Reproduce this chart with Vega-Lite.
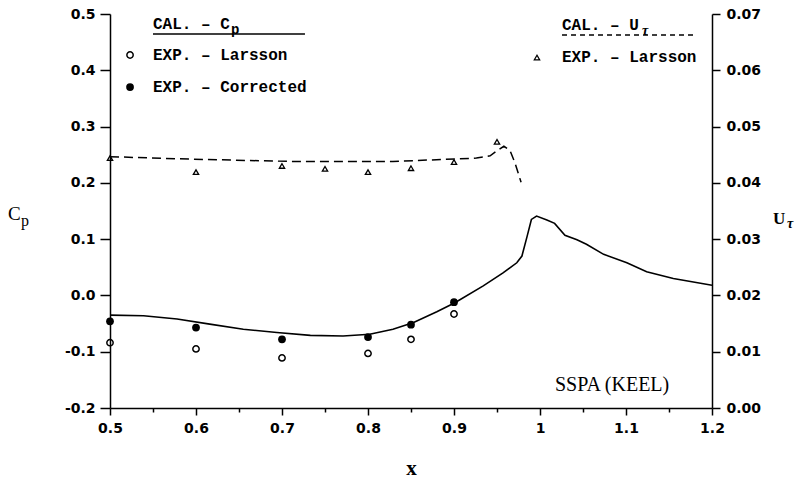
{
  "$schema": "https://vega.github.io/schema/vega-lite/v6.json",
  "width": 602,
  "height": 394,
  "autosize": {"type": "none"},
  "padding": {"left": 110, "top": 14, "right": 91, "bottom": 76},
  "background": "white",
  "config": {"view": {"stroke": null}},
  "datasets": {
    "cpcal": [
      {"x": 0.5, "cp": -0.035}, {"x": 0.539, "cp": -0.036}, {"x": 0.578, "cp": -0.042},
      {"x": 0.616, "cp": -0.051}, {"x": 0.655, "cp": -0.06}, {"x": 0.694, "cp": -0.066},
      {"x": 0.733, "cp": -0.071}, {"x": 0.771, "cp": -0.072}, {"x": 0.802, "cp": -0.069},
      {"x": 0.829, "cp": -0.06}, {"x": 0.853, "cp": -0.048}, {"x": 0.88, "cp": -0.029},
      {"x": 0.901, "cp": -0.013}, {"x": 0.934, "cp": 0.017}, {"x": 0.957, "cp": 0.04},
      {"x": 0.973, "cp": 0.058}, {"x": 0.979, "cp": 0.07}, {"x": 0.985, "cp": 0.105},
      {"x": 0.99, "cp": 0.135}, {"x": 0.996, "cp": 0.141}, {"x": 1.008, "cp": 0.134},
      {"x": 1.017, "cp": 0.128}, {"x": 1.029, "cp": 0.107}, {"x": 1.043, "cp": 0.099},
      {"x": 1.054, "cp": 0.091}, {"x": 1.074, "cp": 0.073}, {"x": 1.101, "cp": 0.058},
      {"x": 1.124, "cp": 0.042}, {"x": 1.155, "cp": 0.03}, {"x": 1.2, "cp": 0.018}
    ],
    "larsson": [
      {"x": 0.5, "cp": -0.084}, {"x": 0.6, "cp": -0.095}, {"x": 0.7, "cp": -0.111},
      {"x": 0.8, "cp": -0.103}, {"x": 0.85, "cp": -0.078}, {"x": 0.9, "cp": -0.033}
    ],
    "corrected": [
      {"x": 0.5, "cp": -0.046}, {"x": 0.6, "cp": -0.057}, {"x": 0.7, "cp": -0.078},
      {"x": 0.8, "cp": -0.074}, {"x": 0.85, "cp": -0.052}, {"x": 0.9, "cp": -0.012}
    ],
    "utcal": [
      {"x": 0.5, "ut": 0.04465}, {"x": 0.597, "ut": 0.0442}, {"x": 0.713, "ut": 0.0438},
      {"x": 0.829, "ut": 0.0438}, {"x": 0.926, "ut": 0.0444}, {"x": 0.942, "ut": 0.0448},
      {"x": 0.95, "ut": 0.0457}, {"x": 0.958, "ut": 0.0465}, {"x": 0.965, "ut": 0.0458},
      {"x": 0.971, "ut": 0.0435}, {"x": 0.978, "ut": 0.0401}
    ],
    "utexp": [
      {"x": 0.5, "ut": 0.0444}, {"x": 0.6, "ut": 0.0419}, {"x": 0.7, "ut": 0.043},
      {"x": 0.75, "ut": 0.0425}, {"x": 0.8, "ut": 0.0419}, {"x": 0.85, "ut": 0.0426},
      {"x": 0.9, "ut": 0.0437}, {"x": 0.95, "ut": 0.0473}
    ]
  },
  "resolve": {"scale": {"y": "independent"}},
  "layer": [
    {
      "layer": [
        {
          "data": {"name": "cpcal"},
          "mark": {"type": "line", "color": "black", "strokeWidth": 1.6},
          "encoding": {
            "x": {
              "field": "x", "type": "quantitative",
              "scale": {"domain": [0.5, 1.2], "nice": false, "zero": false},
              "axis": {
                "orient": "bottom",
                "values": [0.5, 0.55, 0.6, 0.65, 0.7, 0.75, 0.8, 0.85, 0.9, 0.95, 1, 1.05, 1.1, 1.15, 1.2],
                "labelExpr": "abs(datum.value*10 - round(datum.value*10)) < 0.001 ? format(datum.value, '~g') : ''",
                "tickSize": 7,
                "tickDash": {"condition": {"test": "abs(datum.value*10 - round(datum.value*10)) < 0.001", "value": [7, 0]}, "value": [4, 20]},
                "grid": false, "domainColor": "black", "domainWidth": 1.5,
                "tickColor": "black", "tickWidth": 1.5,
                "labelFont": "DejaVu Sans", "labelFontWeight": "bold", "labelFontSize": 14,
                "labelColor": "black", "labelPadding": 6, "labelOverlap": false, "labelFlush": false,
                "title": "x", "titleFont": "Liberation Serif", "titleFontWeight": "bold",
                "titleFontSize": 21, "titleColor": "black", "titlePadding": 22
              }
            },
            "y": {
              "field": "cp", "type": "quantitative",
              "scale": {"domain": [-0.2, 0.5], "nice": false, "zero": false},
              "axis": {
                "orient": "left",
                "values": [-0.2, -0.15, -0.1, -0.05, 0, 0.05, 0.1, 0.15, 0.2, 0.25, 0.3, 0.35, 0.4, 0.45, 0.5],
                "labelExpr": "abs(datum.value*10 - round(datum.value*10)) < 0.001 ? replace(format(datum.value, '.1f'), '\u2212', '-') : ''",
                "tickSize": 10,
                "tickDash": {"condition": {"test": "abs(datum.value*10 - round(datum.value*10)) < 0.001", "value": [10, 0]}, "value": [5, 20]},
                "grid": false, "domainColor": "black", "domainWidth": 1.5,
                "tickColor": "black", "tickWidth": 1.5,
                "labelFont": "DejaVu Sans", "labelFontWeight": "bold", "labelFontSize": 14,
                "labelColor": "black", "labelPadding": 5, "labelOverlap": false, "labelFlush": false,
                "title": null
              }
            }
          }
        },
        {
          "data": {"name": "larsson"},
          "mark": {"type": "point", "shape": "circle", "filled": false, "stroke": "black", "strokeWidth": 1.5, "size": 40, "opacity": 1},
          "encoding": {
            "x": {"field": "x", "type": "quantitative", "scale": {"domain": [0.5, 1.2], "nice": false, "zero": false}},
            "y": {"field": "cp", "type": "quantitative", "scale": {"domain": [-0.2, 0.5], "nice": false, "zero": false}}
          }
        },
        {
          "data": {"name": "corrected"},
          "mark": {"type": "point", "shape": "circle", "filled": true, "fill": "black", "stroke": null, "size": 60, "opacity": 1},
          "encoding": {
            "x": {"field": "x", "type": "quantitative", "scale": {"domain": [0.5, 1.2], "nice": false, "zero": false}},
            "y": {"field": "cp", "type": "quantitative", "scale": {"domain": [-0.2, 0.5], "nice": false, "zero": false}}
          }
        },
        {
          "data": {"values": [{}]},
          "mark": {"type": "text", "text": "C", "align": "left", "baseline": "middle", "font": "Liberation Serif", "fontSize": 19, "color": "black"},
          "encoding": {
            "x": {"datum": 0.3814, "type": "quantitative", "scale": {"domain": [0.5, 1.2], "nice": false, "zero": false}},
            "y": {"datum": 0.1447, "type": "quantitative", "scale": {"domain": [-0.2, 0.5], "nice": false, "zero": false}}
          }
        },
        {
          "data": {"values": [{}]},
          "mark": {"type": "text", "text": "p", "align": "left", "baseline": "middle", "font": "Liberation Serif", "fontSize": 16, "color": "black"},
          "encoding": {
            "x": {"datum": 0.3965, "type": "quantitative", "scale": {"domain": [0.5, 1.2], "nice": false, "zero": false}},
            "y": {"datum": 0.1322, "type": "quantitative", "scale": {"domain": [-0.2, 0.5], "nice": false, "zero": false}}
          }
        },
        {
          "data": {"values": [{}]},
          "mark": {"type": "text", "text": "U", "align": "left", "baseline": "middle", "font": "Liberation Serif", "fontWeight": "bold", "fontSize": 17, "color": "black"},
          "encoding": {
            "x": {"datum": 1.2709, "type": "quantitative", "scale": {"domain": [0.5, 1.2], "nice": false, "zero": false}},
            "y": {"datum": 0.1358, "type": "quantitative", "scale": {"domain": [-0.2, 0.5], "nice": false, "zero": false}}
          }
        },
        {
          "data": {"values": [{}]},
          "mark": {"type": "text", "text": "τ", "align": "left", "baseline": "middle", "font": "Liberation Serif", "fontWeight": "bold", "fontStyle": "italic", "fontSize": 14, "color": "black"},
          "encoding": {
            "x": {"datum": 1.2872, "type": "quantitative", "scale": {"domain": [0.5, 1.2], "nice": false, "zero": false}},
            "y": {"datum": 0.1269, "type": "quantitative", "scale": {"domain": [-0.2, 0.5], "nice": false, "zero": false}}
          }
        },
        {
          "data": {"values": [{}]},
          "mark": {"type": "text", "text": "CAL. – C", "align": "left", "baseline": "middle", "font": "Liberation Mono", "fontWeight": "bold", "fontSize": 16, "color": "black"},
          "encoding": {
            "x": {"datum": 0.55, "type": "quantitative", "scale": {"domain": [0.5, 1.2], "nice": false, "zero": false}},
            "y": {"datum": 0.4822, "type": "quantitative", "scale": {"domain": [-0.2, 0.5], "nice": false, "zero": false}}
          }
        },
        {
          "data": {"values": [{}]},
          "mark": {"type": "text", "text": "p", "align": "left", "baseline": "middle", "font": "Liberation Mono", "fontWeight": "bold", "fontSize": 14, "color": "black"},
          "encoding": {
            "x": {"datum": 0.6407, "type": "quantitative", "scale": {"domain": [0.5, 1.2], "nice": false, "zero": false}},
            "y": {"datum": 0.4716, "type": "quantitative", "scale": {"domain": [-0.2, 0.5], "nice": false, "zero": false}}
          }
        },
        {
          "data": {"values": [{}]},
          "mark": {"type": "rule", "color": "black", "strokeWidth": 1.5},
          "encoding": {
            "x": {"datum": 0.55, "type": "quantitative", "scale": {"domain": [0.5, 1.2], "nice": false, "zero": false}},
            "x2": {"datum": 0.7267},
            "y": {"datum": 0.4645, "type": "quantitative", "scale": {"domain": [-0.2, 0.5], "nice": false, "zero": false}}
          }
        },
        {
          "data": {"values": [{}]},
          "mark": {"type": "text", "text": "EXP. – Larsson", "align": "left", "baseline": "middle", "font": "Liberation Mono", "fontWeight": "bold", "fontSize": 16, "color": "black"},
          "encoding": {
            "x": {"datum": 0.55, "type": "quantitative", "scale": {"domain": [0.5, 1.2], "nice": false, "zero": false}},
            "y": {"datum": 0.4272, "type": "quantitative", "scale": {"domain": [-0.2, 0.5], "nice": false, "zero": false}}
          }
        },
        {
          "data": {"values": [{}]},
          "mark": {"type": "point", "shape": "circle", "filled": false, "stroke": "black", "strokeWidth": 1.5, "size": 40, "opacity": 1},
          "encoding": {
            "x": {"datum": 0.5233, "type": "quantitative", "scale": {"domain": [0.5, 1.2], "nice": false, "zero": false}},
            "y": {"datum": 0.4272, "type": "quantitative", "scale": {"domain": [-0.2, 0.5], "nice": false, "zero": false}}
          }
        },
        {
          "data": {"values": [{}]},
          "mark": {"type": "text", "text": "EXP. – Corrected", "align": "left", "baseline": "middle", "font": "Liberation Mono", "fontWeight": "bold", "fontSize": 16, "color": "black"},
          "encoding": {
            "x": {"datum": 0.55, "type": "quantitative", "scale": {"domain": [0.5, 1.2], "nice": false, "zero": false}},
            "y": {"datum": 0.3703, "type": "quantitative", "scale": {"domain": [-0.2, 0.5], "nice": false, "zero": false}}
          }
        },
        {
          "data": {"values": [{}]},
          "mark": {"type": "point", "shape": "circle", "filled": true, "fill": "black", "stroke": null, "size": 60, "opacity": 1},
          "encoding": {
            "x": {"datum": 0.5233, "type": "quantitative", "scale": {"domain": [0.5, 1.2], "nice": false, "zero": false}},
            "y": {"datum": 0.3703, "type": "quantitative", "scale": {"domain": [-0.2, 0.5], "nice": false, "zero": false}}
          }
        },
        {
          "data": {"values": [{}]},
          "mark": {"type": "text", "text": "CAL. – U", "align": "left", "baseline": "middle", "font": "Liberation Mono", "fontWeight": "bold", "fontSize": 16, "color": "black"},
          "encoding": {
            "x": {"datum": 1.0256, "type": "quantitative", "scale": {"domain": [0.5, 1.2], "nice": false, "zero": false}},
            "y": {"datum": 0.4805, "type": "quantitative", "scale": {"domain": [-0.2, 0.5], "nice": false, "zero": false}}
          }
        },
        {
          "data": {"values": [{}]},
          "mark": {"type": "text", "text": "τ", "align": "left", "baseline": "middle", "font": "Liberation Serif", "fontWeight": "bold", "fontStyle": "italic", "fontSize": 14, "color": "black"},
          "encoding": {
            "x": {"datum": 1.1186, "type": "quantitative", "scale": {"domain": [0.5, 1.2], "nice": false, "zero": false}},
            "y": {"datum": 0.4698, "type": "quantitative", "scale": {"domain": [-0.2, 0.5], "nice": false, "zero": false}}
          }
        },
        {
          "data": {"values": [{}]},
          "mark": {"type": "rule", "color": "black", "strokeWidth": 1.4, "strokeDash": [5, 4]},
          "encoding": {
            "x": {"datum": 1.0256, "type": "quantitative", "scale": {"domain": [0.5, 1.2], "nice": false, "zero": false}},
            "x2": {"datum": 1.1826},
            "y": {"datum": 0.4627, "type": "quantitative", "scale": {"domain": [-0.2, 0.5], "nice": false, "zero": false}}
          }
        },
        {
          "data": {"values": [{}]},
          "mark": {"type": "text", "text": "EXP. – Larsson", "align": "left", "baseline": "middle", "font": "Liberation Mono", "fontWeight": "bold", "fontSize": 16, "color": "black"},
          "encoding": {
            "x": {"datum": 1.0256, "type": "quantitative", "scale": {"domain": [0.5, 1.2], "nice": false, "zero": false}},
            "y": {"datum": 0.4236, "type": "quantitative", "scale": {"domain": [-0.2, 0.5], "nice": false, "zero": false}}
          }
        },
        {
          "data": {"values": [{}]},
          "mark": {"type": "point", "shape": "triangle-up", "filled": false, "stroke": "black", "strokeWidth": 1.3, "size": 28, "opacity": 1},
          "encoding": {
            "x": {"datum": 0.9965, "type": "quantitative", "scale": {"domain": [0.5, 1.2], "nice": false, "zero": false}},
            "y": {"datum": 0.4227, "type": "quantitative", "scale": {"domain": [-0.2, 0.5], "nice": false, "zero": false}}
          }
        },
        {
          "data": {"values": [{}]},
          "mark": {"type": "text", "text": "SSPA (KEEL)", "align": "left", "baseline": "middle", "font": "Liberation Serif", "fontSize": 20, "color": "black"},
          "encoding": {
            "x": {"datum": 1.0174, "type": "quantitative", "scale": {"domain": [0.5, 1.2], "nice": false, "zero": false}},
            "y": {"datum": -0.1591, "type": "quantitative", "scale": {"domain": [-0.2, 0.5], "nice": false, "zero": false}}
          }
        }
      ]
    },
    {
      "layer": [
        {
          "data": {"name": "utcal"},
          "mark": {"type": "line", "color": "black", "strokeWidth": 1.5, "strokeDash": [9, 5]},
          "encoding": {
            "x": {"field": "x", "type": "quantitative", "scale": {"domain": [0.5, 1.2], "nice": false, "zero": false}},
            "y": {
              "field": "ut", "type": "quantitative",
              "scale": {"domain": [0, 0.07], "nice": false, "zero": false},
              "axis": {
                "orient": "right",
                "values": [0, 0.005, 0.01, 0.015, 0.02, 0.025, 0.03, 0.035, 0.04, 0.045, 0.05, 0.055, 0.06, 0.065, 0.07],
                "labelExpr": "abs(datum.value*100 - round(datum.value*100)) < 0.001 ? format(datum.value, '.2f') : ''",
                "tickSize": 8,
                "tickDash": {"condition": {"test": "abs(datum.value*100 - round(datum.value*100)) < 0.001", "value": [8, 0]}, "value": [4, 20]},
                "grid": false, "domainColor": "black", "domainWidth": 1.5,
                "tickColor": "black", "tickWidth": 1.5,
                "labelFont": "DejaVu Sans", "labelFontWeight": "bold", "labelFontSize": 14,
                "labelColor": "black", "labelPadding": 6, "labelOverlap": false, "labelFlush": false,
                "title": null
              }
            }
          }
        },
        {
          "data": {"name": "utexp"},
          "mark": {"type": "point", "shape": "triangle-up", "filled": false, "stroke": "black", "strokeWidth": 1.3, "size": 28, "opacity": 1},
          "encoding": {
            "x": {"field": "x", "type": "quantitative", "scale": {"domain": [0.5, 1.2], "nice": false, "zero": false}},
            "y": {"field": "ut", "type": "quantitative", "scale": {"domain": [0, 0.07], "nice": false, "zero": false}}
          }
        }
      ]
    }
  ]
}
